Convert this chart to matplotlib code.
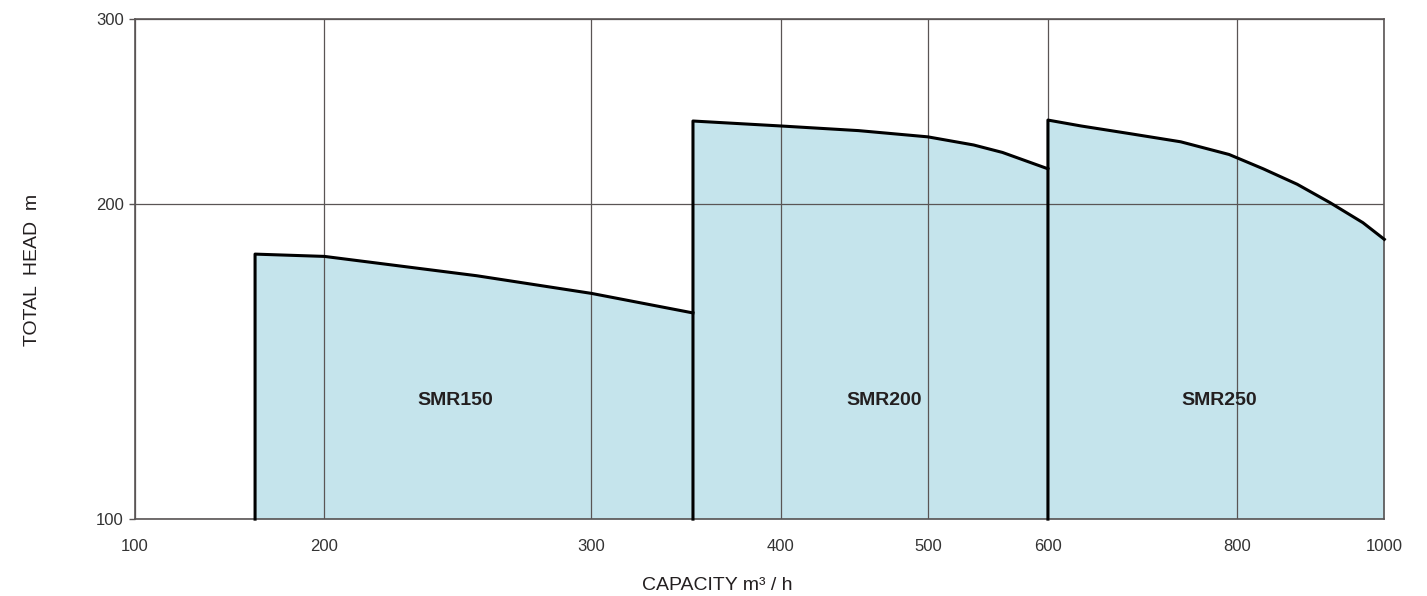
import matplotlib.pyplot as plt
from matplotlib import font_manager

# pump ranges
smr150_q = [180, 200, 252, 300, 350]
smr150_h = [179.0, 178.1, 170.7, 164.2, 157.3]

smr200_q = [350, 400, 450, 500, 536, 560, 600]
smr200_h = [239.8, 237.2, 234.8, 231.6, 227.5, 223.8, 215.9]

smr250_q = [600, 631, 680, 734, 790, 832, 876, 921, 968, 1000]
smr250_h = [240.3, 237.2, 233.2, 229.1, 222.8, 215.9, 208.7, 200.4, 191.8, 184.9]

names = ["SMR150", "SMR200", "SMR250"]
label_q = [244, 468, 778]
label_h = 129.8

x_ticks = [150, 200, 300, 400, 500, 600, 800, 1000]
x_tick_labels = ["100", "200", "300", "400", "500", "600", "800", "1000"]
y_ticks = [100, 200, 300]
y_tick_labels = ["100", "200", "300"]

installed = {f.name for f in font_manager.fontManager.ttflist}
narrow = "Liberation Sans Narrow" if "Liberation Sans Narrow" in installed else "Liberation Sans"
plt.rcParams['font.family'] = [narrow, 'DejaVu Sans']

fill_color = "#c5e4ec"
grid_color = "#5a5555"
text_color = "#231f20"


def main():
    fig = plt.figure(figsize=(14.27, 5.96), dpi=100)
    ax = fig.add_axes([0.0946, 0.129, 0.8755, 0.839])
    ax.set_xscale("log")
    ax.set_yscale("log")
    ax.set_xlim(150, 1000)
    ax.set_ylim(100, 300)

    series = [(smr150_q, smr150_h), (smr200_q, smr200_h), (smr250_q, smr250_h)]
    for q, h in series:
        ax.fill_between(q, 100, h, color=fill_color, linewidth=0, zorder=1)
        ax.plot([q[0]] + q, [100] + h, color="black", linewidth=2.2,
                solid_joinstyle="round", zorder=4, clip_on=False)

    for name, q in zip(names, label_q):
        ax.text(q, label_h, name, ha="center", va="center", fontsize=14,
                fontweight="bold", color=text_color, zorder=5)

    ax.set_xticks(x_ticks)
    ax.set_xticklabels(x_tick_labels)
    ax.set_yticks(y_ticks)
    ax.set_yticklabels(y_tick_labels)
    ax.minorticks_off()
    ax.tick_params(axis="x", length=0, pad=14, labelsize=12, labelcolor="#333333")
    ax.tick_params(axis="y", length=4, width=1, color=grid_color, pad=4,
                   labelsize=12, labelcolor="#333333")

    ax.grid(True, color=grid_color, linewidth=0.9, zorder=2)
    ax.set_axisbelow(False)
    for s in ax.spines.values():
        s.set_color(grid_color)
        s.set_linewidth(1.2)

    # axis titles placed in figure coords, as in the reference
    fig.text(717 / 1427, 1 - 585 / 596, "CAPACITY m³ / h", ha="center", va="center",
             fontsize=14, color=text_color)
    fig.text(33 / 1427, 1 - 270 / 596, "TOTAL  HEAD  m", ha="center", va="center",
             rotation=90, fontsize=14, color=text_color)

    fig.savefig("out.png", dpi=100)


if __name__ == "__main__":
    main()
